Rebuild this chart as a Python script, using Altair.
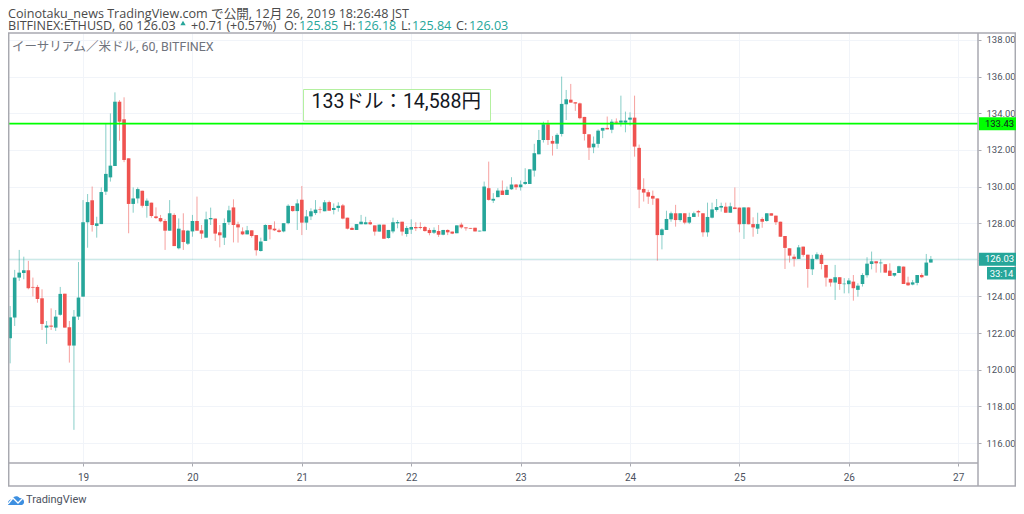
import altair as alt
import pandas as pd

# Hourly candles (open, high, low, close), one list per calendar day.
DAY_18 = [(122.99,122.99,121.63,121.63),(121.72,123.48,120.35,122.86),(122.85,125.45,122.39,125.03),(125.03,126.54,124.85,125.3),(125.28,126.17,124.94,125.43),(125.43,125.94,124.39,124.45),(124.52,125.03,124.0,124.48),(124.52,124.63,123.66,123.86),(123.9,124.39,122.17,122.5),(122.3,122.66,121.41,122.41),(122.41,123.35,122.17,122.35),(122.3,123.26,122.12,122.9),(123.0,124.52,122.95,124.14),(124.15,124.15,122.3,122.3),(122.32,122.66,120.39,121.32),(121.32,123.26,116.72,122.9),(122.9,125.88,122.72,123.94)]
DAY_19 = [(123.99,129.26,123.99,128.05),(128.05,129.59,126.66,129.15),(129.25,130.0,127.54,127.9),(127.85,128.35,127.21,127.99),(127.95,129.95,127.95,129.7),(129.72,133.45,129.54,130.69),(130.5,133.99,130.27,131.14),(131.12,135.14,131.12,134.63),(134.63,134.72,132.5,133.54),(133.67,134.87,131.33,131.45),(131.54,131.54,127.45,129.05),(129.05,129.95,128.57,129.35),(129.35,129.95,129.08,129.86),(129.77,129.77,128.85,128.95),(128.94,129.35,128.3,129.23),(129.12,129.12,128.3,128.39),(128.37,128.86,128.23,128.28),(128.28,128.45,128.05,128.1),(128.12,128.23,126.54,127.59),(127.59,129.26,127.59,128.54),(128.45,128.54,126.75,126.75),(126.63,128.26,126.57,127.7),(127.61,128.54,126.54,126.97),(126.88,127.63,126.81,127.59)]
DAY_20 = [(127.55,128.45,127.26,128.12),(128.12,129.45,127.59,127.59),(127.61,127.9,127.14,127.43),(127.21,128.63,127.21,128.21),(128.21,128.85,127.9,128.28),(128.25,128.25,127.03,127.43),(127.5,127.9,126.68,127.34),(127.21,128.26,126.81,128.01),(128.05,128.95,127.9,128.7),(128.86,129.3,126.95,127.9),(127.94,128.08,126.94,127.77),(127.55,127.77,127.35,127.39),(127.39,127.85,127.39,127.61),(127.61,127.61,127.21,127.3),(127.35,127.35,126.23,126.52),(126.48,127.21,126.45,127.0),(127.03,127.94,127.03,127.9),(127.9,127.9,127.12,127.66),(127.7,128.1,127.57,127.61),(127.61,127.7,127.48,127.52),(127.55,128.0,127.5,128.0),(128.0,129.03,127.94,128.95),(128.94,128.94,128.63,128.66),(128.66,129.3,127.63,129.08)]
DAY_21 = [(129.28,130.03,127.35,128.03),(128.03,128.72,127.63,128.37),(128.37,128.81,128.17,128.65),(128.55,129.26,128.45,128.74),(128.75,128.9,128.54,128.72),(128.65,129.26,128.65,129.14),(129.15,129.23,128.68,128.68),(128.72,129.08,128.48,128.83),(128.83,129.14,128.63,128.95),(128.97,129.05,128.21,128.25),(128.3,128.3,127.66,127.7),(127.74,127.81,127.63,127.63),(127.63,127.95,127.63,127.95),(127.94,128.45,127.94,128.08),(127.94,128.35,127.94,128.05),(128.05,128.17,127.9,127.94),(127.88,127.88,127.32,127.54),(127.54,127.92,127.54,127.92),(127.92,127.92,127.15,127.15),(127.19,127.63,127.15,127.63),(127.55,128.3,127.45,128.05),(127.99,128.17,127.72,128.06),(128.08,128.08,127.32,127.54),(127.41,127.85,127.26,127.74)]
DAY_22 = [(127.65,128.21,127.41,127.79),(127.79,128.05,127.57,127.72),(127.79,128.05,127.66,127.74),(127.79,127.85,127.54,127.57),(127.63,127.74,127.34,127.46),(127.48,127.77,127.41,127.63),(127.57,127.9,127.25,127.37),(127.37,127.63,127.34,127.63),(127.63,127.66,127.35,127.5),(127.54,127.54,127.4,127.43),(127.45,127.88,127.45,127.88),(127.92,128.03,127.7,127.77),(127.77,127.77,127.59,127.72),(127.74,127.74,127.7,127.7),(127.75,127.75,127.55,127.55),(127.55,127.59,127.55,127.59),(127.56,130.27,127.56,130.0),(129.91,131.36,129.23,129.27),(129.23,129.64,129.1,129.33),(129.42,129.91,129.42,129.78),(129.78,130.33,129.54,129.54),(129.54,130.0,129.54,129.82),(129.85,130.51,129.82,130.11),(130.11,130.14,129.82,129.96)]
DAY_23 = [(129.96,130.33,129.78,130.11),(130.14,131.0,130.09,130.25),(130.14,130.94,130.14,130.94),(130.87,132.33,130.54,131.82),(131.76,133.09,131.76,132.54),(132.54,133.54,132.4,133.4),(133.4,133.63,132.27,132.54),(132.49,132.76,131.69,132.34),(132.34,132.91,132.05,132.82),(132.87,136.0,132.73,134.51),(134.49,135.27,133.63,134.76),(134.74,135.6,134.58,134.58),(134.6,134.6,134.13,134.53),(134.54,134.58,133.67,133.73),(133.8,133.8,132.51,132.87),(132.85,132.85,131.45,132.12),(132.14,132.73,131.82,132.34),(132.33,133.12,132.12,133.05),(133.05,133.2,132.64,133.2),(133.2,133.82,133.12,133.12),(133.1,133.67,132.91,133.54),(133.54,133.72,133.4,133.49),(133.49,134.96,133.27,133.6),(133.49,134.09,132.96,133.6)]
DAY_24 = [(133.65,134.05,133.33,133.76),(133.76,134.96,131.63,132.18),(132.11,132.29,128.82,129.83),(129.87,130.45,129.18,129.67),(129.69,129.82,129.05,129.45),(129.49,129.78,129.0,129.34),(129.35,129.35,125.95,127.35),(127.35,127.72,126.57,127.66),(127.63,128.68,127.63,128.23),(128.21,128.63,128.08,128.54),(128.54,129.0,127.81,128.17),(128.17,128.54,128.08,128.54),(128.54,128.54,127.94,128.03),(128.03,128.57,127.95,128.34),(128.34,128.63,128.34,128.54),(128.66,128.72,128.35,128.59),(128.54,128.54,127.26,127.5),(127.5,129.12,127.26,128.34),(128.3,129.12,128.26,128.75),(128.72,129.32,128.63,128.88),(128.85,129.12,128.63,128.94),(128.9,129.12,128.57,128.57),(128.57,129.12,128.57,128.92),(128.86,129.95,128.77,128.77)]
DAY_25 = [(128.85,128.85,127.5,127.94),(127.95,128.86,127.14,128.86),(128.86,128.86,127.94,127.94),(127.95,128.32,127.26,127.77),(127.7,128.57,127.41,127.95),(128.23,128.32,127.75,128.08),(128.12,128.54,128.08,128.54),(128.54,128.54,128.41,128.41),(128.41,128.41,127.9,128.05),(128.08,128.08,127.26,127.26),(127.3,127.3,125.5,126.65),(126.63,126.63,125.85,126.23),(126.17,126.3,125.63,126.05),(126.05,126.81,126.05,126.68),(126.72,126.72,126.17,126.27),(126.28,126.28,124.48,125.5),(125.48,126.27,125.17,126.05),(126.05,126.41,126.0,126.3),(126.27,126.36,125.48,125.77),(125.72,125.72,124.54,125.03),(124.96,124.96,124.54,124.76),(124.76,125.72,123.81,125.05),(125.05,125.05,124.36,124.68),(124.67,125.0,124.17,124.7)]
DAY_26 = [(124.67,125.0,124.17,124.87),(124.81,125.17,123.77,124.45),(124.36,124.72,123.99,124.59),(124.68,125.27,124.54,125.17),(125.16,126.14,125.03,125.79),(125.77,126.45,125.48,125.92),(125.92,125.92,125.3,125.81),(125.81,126.03,125.3,125.85),(125.76,125.76,125.3,125.3),(125.41,125.81,125.12,125.12),(125.14,125.28,125.07,125.28),(125.28,125.68,125.28,125.65),(125.63,125.63,124.68,124.68),(124.76,125.08,124.57,124.61),(124.65,124.9,124.61,124.77),(124.74,125.17,124.61,125.17),(125.17,125.27,125.0,125.05),(125.14,126.32,125.14,125.85),(125.85,126.21,125.85,126.03)]

FIRST_HOUR = -17
PRICE_TICKS = [116, 118, 120, 122, 124, 126, 128, 130, 132, 134, 136, 138]
DAY_TICKS = [19, 20, 21, 22, 23, 24, 25, 26, 27]
LEVEL = 133.43
LAST = 126.03

UP, DOWN = "#26a69a", "#ef5350"
FONT = "Roboto, 'Noto Sans CJK JP', sans-serif"
HFONT = "'Open Sans', 'Noto Sans CJK JP', sans-serif"
FRAME = "#a8a9b0"
TEXT = "#4c525e"
HEAD = "#4a4a4a"

rows = DAY_18 + DAY_19 + DAY_20 + DAY_21 + DAY_22 + DAY_23 + DAY_24 + DAY_25 + DAY_26
df = pd.DataFrame(rows, columns=["o", "h", "l", "c"])
df["day"] = [19 + (FIRST_HOUR + i) / 24 for i in range(len(df))]
df["dir"] = ["up" if c >= o else "down" for o, c in zip(df.o, df.c)]

X = alt.Scale(domain=[18.314, 27.181], nice=False, zero=False)
Y = alt.Scale(domain=[114.91, 138.38], nice=False, zero=False)
COL = alt.Scale(domain=["up", "down"], range=[UP, DOWN])
XAX = alt.Axis(values=DAY_TICKS, format="d", title=None, orient="bottom",
               grid=True, gridColor="#f1f4f9", domain=False, labelOverlap=False,
               tickColor=FRAME, tickSize=3, labelColor=TEXT, labelFont=FONT,
               labelFontSize=10, labelPadding=6)
YAX = alt.Axis(values=PRICE_TICKS, format=".2f", title=None, orient="right",
               grid=True, gridColor="#f1f4f9", domain=False, labelOverlap=False,
               tickColor=FRAME, tickSize=3, labelColor=TEXT, labelFont=FONT,
               labelFontSize=9.5, labelPadding=5)
one = pd.DataFrame({"a": [0]})
W, H = 970, 430


def px(v):
    return alt.value(v - 8)


def py(v):
    return alt.value(v - 33)


def label(text, x, y, size=13, color=TEXT, align="left", font=FONT, **kw):
    return alt.Chart(one).mark_text(text=text, font=font, fontSize=size, color=color,
                                    align=align, baseline="middle", **kw).encode(x=px(x), y=py(y))


def head(text, x, color=HEAD, y=26):
    return label(text, x, y, size=12.6, color=color, font=HFONT)


def hline(x1, x2, y, color=FRAME, width=1.5):
    return alt.Chart(one).mark_rule(color=color, strokeWidth=width).encode(x=px(x1), x2=px(x2), y=py(y))


def vline(x, y1, y2, color=FRAME, width=1.5):
    return alt.Chart(one).mark_rule(color=color, strokeWidth=width).encode(x=px(x), y=py(y1), y2=py(y2))


base = alt.Chart(df)
wicks = base.mark_rule(strokeWidth=1, opacity=0.55).encode(
    x=alt.X("day:Q", scale=X, axis=XAX),
    y=alt.Y("l:Q", scale=Y, axis=YAX),
    y2="h:Q",
    color=alt.Color("dir:N", scale=COL, legend=None),
)
bodies = base.mark_rule(strokeWidth=3.6).encode(
    x=alt.X("day:Q", scale=X, axis=XAX),
    y=alt.Y("o:Q", scale=Y, axis=YAX),
    y2="c:Q",
    color=alt.Color("dir:N", scale=COL, legend=None),
)


def level_rule(value, color, width, opacity=1.0):
    return alt.Chart(one).mark_rule(color=color, strokeWidth=width, opacity=opacity).encode(
        x=alt.value(0), x2=alt.value(W), y=alt.Y("v:Q", scale=Y, axis=YAX)
    ).transform_calculate(v=str(value))


def price_tag(value, text, fill, color):
    tag = alt.Chart(one).mark_rule(color=fill, strokeWidth=13).encode(
        x=px(979), x2=px(1016), y=alt.Y("v:Q", scale=Y, axis=YAX)
    ).transform_calculate(v=str(value))
    txt = alt.Chart(one).mark_text(text=text, font=FONT, fontSize=9.5, color=color, align="center",
                                   baseline="middle").encode(
        x=px(999.5), y=alt.Y("v:Q", scale=Y, axis=YAX)
    ).transform_calculate(v=str(value))
    return tag + txt


note_box = alt.Chart(one).mark_rect(fill="white", stroke="#b4f0a0", strokeWidth=1).encode(
    x=px(303.5), x2=px(490.5), y=py(89.5), y2=py(121))

cloud = "M-1,0.55 C-1.1,0.1 -0.8,-0.15 -0.5,-0.15 C-0.35,-0.55 0.2,-0.7 0.45,-0.3 C0.8,-0.3 1.05,-0.05 1,0.25 C0.97,0.45 0.85,0.55 0.7,0.55 Z"
logo = alt.Chart(one).mark_point(shape=cloud, filled=True, color="#3d8fe0", opacity=1, size=256).encode(
    x=px(16), y=py(500.5))
logo_line = alt.Chart(pd.DataFrame({"i": [0, 1, 2, 3], "xp": [8 - 8, 13 - 8, 18 - 8, 24 - 8],
                                    "yp": [504 - 33, 498 - 33, 503 - 33, 497 - 33]})).mark_line(
    color="white", strokeWidth=1.3).encode(
    x=alt.X("xp:Q", scale=None, axis=None), y=alt.Y("yp:Q", scale=None, axis=None), order="i:Q")

chart = alt.layer(
    wicks, bodies,
    level_rule(LAST, UP, 1, 0.3),
    level_rule(LEVEL, "#00ff00", 1.7),
    note_box,
    label("133ドル：14,588円", 311.5, 102, size=19.5, color="#131722"),
    label("イーサリアム／米ドル, 60, BITFINEX", 12, 47, size=12.5, color="#6f737d"),
    hline(8, 1016, 33), hline(8, 1016, 486), hline(8, 978, 463),
    vline(8.7, 33, 486), vline(1015.3, 33, 486), vline(978, 33, 486),
    price_tag(LEVEL, "133.43", "#00ff00", "#131722"),
    price_tag(LAST, "126.03", UP, "white"),
    alt.Chart(one).mark_rect(fill=UP).encode(x=px(987), x2=px(1016), y=py(267), y2=py(279.5)),
    label("33:14", 1001.5, 273.5, size=9.5, color="white", align="center"),
    head("Coinotaku_news TradingView.com で公開, 12月 26, 2019 18:26:48 JST", 8, y=14),
    head("BITFINEX:ETHUSD, 60 126.03", 8),
    alt.Chart(one).mark_point(shape="triangle-up", filled=True, color=UP, opacity=1, size=28).encode(
        x=px(183), y=py(23)),
    head("+0.71 (+0.57%)", 191),
    head("O:", 284),
    head("125.85", 299, UP),
    head("H:", 343),
    head("126.18", 357, UP),
    head("L:", 401),
    head("125.84", 412, UP),
    head("C:", 456),
    head("126.03", 469, UP),
    logo, logo_line,
    label("TradingView", 26, 500, size=11),
).properties(
    width=W, height=H,
    padding={"left": 0, "top": 25, "right": 38, "bottom": 43},
    autosize=alt.AutoSizeParams(type="none"),
).configure_view(stroke=None)

chart.save("out.html", embed_options={"renderer": "svg", "actions": False})
